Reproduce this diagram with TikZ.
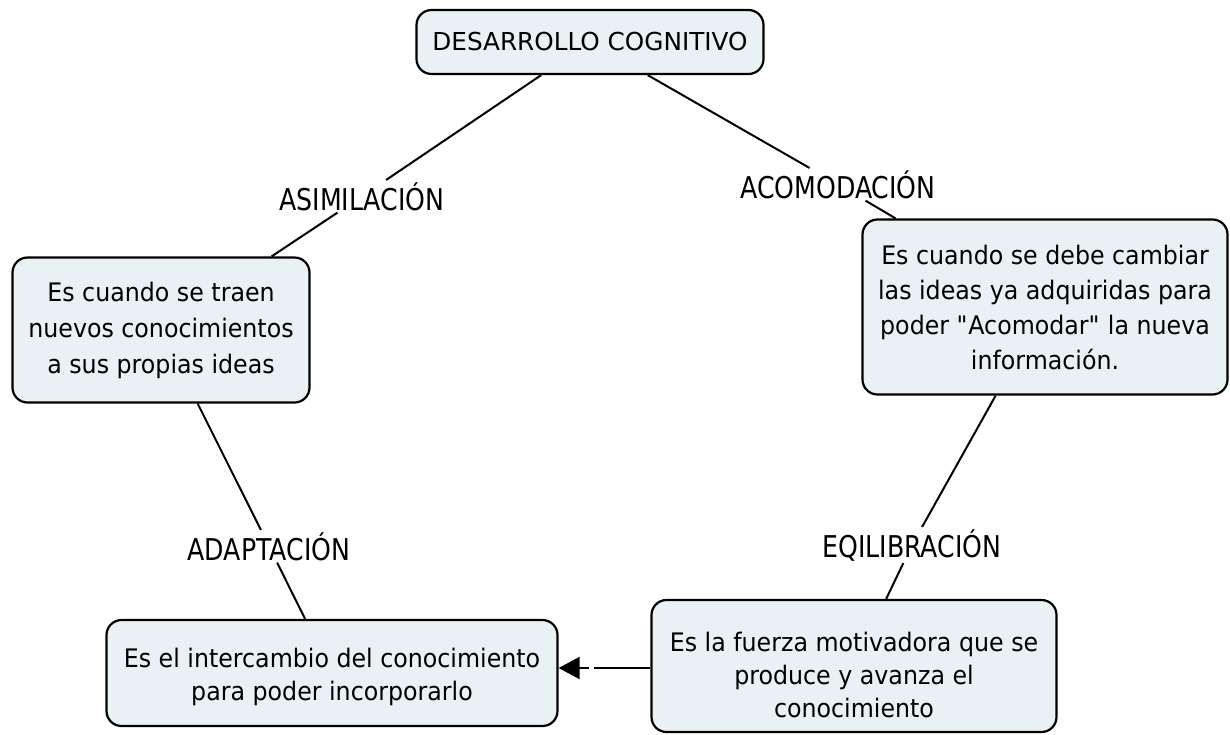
\documentclass[tikz,border=0pt]{standalone}
\usepackage{fontspec}
\setmainfont{DejaVu Sans}
\newfontfamily\lblfont{DejaVu Sans}[FakeStretch=0.84]
\newfontfamily\bodyfont{DejaVu Sans}[FakeStretch=0.93]
\usetikzlibrary{arrows.meta}
\definecolor{boxfill}{HTML}{EAF1F4}
\begin{document}
\begin{tikzpicture}[x=1pt,y=-1pt,
  concept/.style={draw=black, line width=2.2pt, fill=boxfill, rounded corners=15pt,
    align=center, font=\bodyfont\fontsize{25.5}{35}\selectfont, inner sep=0pt},
  txt/.style={align=center, font=\bodyfont\fontsize{25.5}{33}\selectfont, inner sep=0pt},
  phrase/.style={font=\lblfont\fontsize{30}{34}\selectfont, inner sep=2pt},
  link/.style={line width=2pt}]
\useasboundingbox (0,0) rectangle (1230,734);
\fill[white] (0,0) rectangle (1230,734);
% concepts
\node[concept, minimum width=347pt, minimum height=64pt, font=\fontsize{24.7}{30}\selectfont] (top) at (590,42) {DESARROLLO COGNITIVO};
\node[concept, minimum width=297pt, minimum height=145pt, font=\bodyfont\fontsize{25.5}{36}\selectfont] (left) at (161,330)
  {Es cuando se traen\\nuevos conocimientos\\a sus propias ideas};
\node[concept, minimum width=365pt, minimum height=175pt] (right) at (1045,307)
  {Es cuando se debe cambiar\\las ideas ya adquiridas para\\poder \textquotedbl Acomodar\textquotedbl\ la nueva\\información.};
\node[concept, minimum width=451pt, minimum height=106pt] (bl) at (332,673) {};
\node[txt] (bltext) at (332,677) {Es el intercambio del conocimiento\\para poder incorporarlo};
\node[concept, minimum width=405pt, minimum height=132pt] (br) at (854,666) {};
\node[txt] (brtext) at (854,675) {Es la fuerza motivadora que se\\produce y avanza el\\conocimiento};
% linking phrases
\node[phrase, anchor=base] (asim) at (362,210) {ASIMILACIÓN};
\node[phrase, anchor=base] (acom) at (838,198) {ACOMODACIÓN};
\node[phrase, anchor=base] (adap) at (269,560) {ADAPTACIÓN};
\node[phrase, anchor=base] (eqil) at (912,557) {EQILIBRACIÓN};
% connectors
\draw[link] (top) -- (asim);
\draw[link] (asim) -- (left);
\draw[link] (top) -- (acom);
\draw[link] (acom) -- (right);
\draw[link] (left) -- (adap);
\draw[link] (adap) -- (bl);
\draw[link] (right) -- (eqil);
\draw[link] (eqil) -- (br);
\coordinate (g1) at (594,668);
\coordinate (g2) at (589,668);
\draw[link] (br.west |- g1) -- (g1);
\draw[link, -{Triangle[length=21pt,width=22pt]}] (g2) -- (bl.east |- g2);
\end{tikzpicture}
\end{document}
